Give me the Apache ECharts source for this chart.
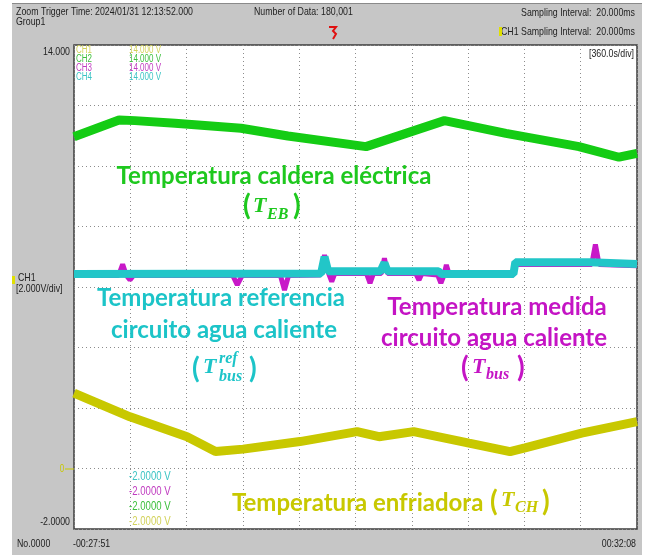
<!DOCTYPE html>
<html>
<head>
<meta charset="utf-8">
<script src="https://cdn.jsdelivr.net/npm/echarts@6/dist/echarts.min.js"></script>
<style>
    body { margin: 0; background: #fff; }
    #frame { position: absolute; left: 12px; top: 3px; width: 630px; height: 552px; background: #c6c6c6; border-top: 1px solid #8a8a8a; }
    #main { position: absolute; left: 0; top: 0; width: 647px; height: 555px; }
</style>
</head>
<body>
<div id="frame"></div>
<div id="main"></div>
<script>
// time in seconds from the left edge of the record (10 div x 360 s), values in V
var greenT  = [0, 288, 390, 646, 1068, 1368, 1867, 2369, 2762, 3229, 3485, 3600];
var greenV  = [10.97, 11.52, 11.50, 11.41, 11.25, 10.99, 10.64, 11.50, 11.08, 10.64, 10.29, 10.42];

var yellowT = [0, 358, 723, 905, 1081, 1445, 1810, 1950, 2172, 2526, 2788, 2884, 3246, 3600];
var yellowV = [2.49, 1.71, 1.05, 0.56, 0.64, 0.89, 1.22, 1.05, 1.22, 0.84, 0.56, 0.68, 1.17, 1.55];

var cyanT   = [0, 1580, 1602, 1625, 1960, 1985, 2005, 2330, 2350, 2810, 2822, 3300, 3600];
var cyanV   = [6.43, 6.45, 7.00, 6.52, 6.52, 6.80, 6.52, 6.52, 6.43, 6.43, 6.82, 6.82, 6.76];

var magT    = [0, 285, 311, 335, 358, 380, 1015, 1044, 1075, 1320, 1346, 1372, 1575, 1602, 1628, 1648, 1668,
               1870, 1893, 1915, 1965, 1985, 2005, 2185, 2206, 2225, 2325, 2346, 2365, 2381, 2400, 2810, 2822,
               3310, 3334, 3358, 3600];
var magV    = [6.38, 6.38, 6.75, 6.38, 6.23, 6.38, 6.38, 6.07, 6.38, 6.38, 5.90, 6.38, 6.40, 7.06, 6.45, 6.18, 6.45,
               6.45, 6.13, 6.45, 6.45, 6.95, 6.45, 6.45, 6.23, 6.45, 6.40, 6.13, 6.38, 6.73, 6.40, 6.40, 6.74,
               6.74, 7.41, 6.74, 6.70];

var timeLabels  = ['-00:27:51', '00:32:08'];
var voltLabels  = ['14.000', '-2.0000'];
var channels    = ['CH1', 'CH2', 'CH3', 'CH4'];
var chColors    = ['#d2d25a', '#3cbf3c', '#c03cc0', '#3cc4c4'];

function pairs(t, v) {
    var out = [];
    for (var i = 0; i < t.length; i++) out.push([t[i], v[i]]);
    return out;
}

function txt(x, y, s, color, font, align) {
    return {
        type: 'text', z: 100,
        style: {
            text: s, x: x, y: y, fill: color, font: font,
            align: align || 'left', textAlign: align || 'left',
            verticalAlign: 'middle', textVerticalAlign: 'middle'
        }
    };
}
// narrow scope font: squeeze Liberation Sans horizontally
function stxt(x, y, s, color, size, align) {
    return {
        type: 'text', z: 100, x: x, y: y, scaleX: 0.8,
        style: {
            text: s, x: 0, y: 0, fill: color, font: size + 'px "Liberation Sans", Arial, sans-serif',
            align: align || 'left', textAlign: align || 'left',
            verticalAlign: 'middle', textVerticalAlign: 'middle'
        }
    };
}

var big = 'bold 24px Lato';
var paren = 'bold 28px Lato';
var mathT = 'italic bold 22px "Liberation Serif"';
var mathS = 'italic bold 16px "Liberation Serif"';
var cG = '#1ec81e', cC = '#1cc4c8', cM = '#c414c4', cY = '#c8c800';

var graphics = [
    // header
    stxt(16, 12, 'Zoom Trigger Time: 2024/01/31 12:13:52.000', '#222', 11),
    stxt(16, 22, 'Group1', '#222', 11),
    stxt(254, 12, 'Number of Data: 180,001', '#222', 11),
    stxt(635, 13, 'Sampling Interval:  20.000ms', '#222', 11, 'right'),
    stxt(635, 32, 'CH1 Sampling Interval:  20.000ms', '#222', 11, 'right'),
    { type: 'rect', z: 100, shape: { x: 499, y: 27, width: 3, height: 9 }, style: { fill: '#e0e000' } },
    { type: 'polyline', z: 100, shape: { points: [[329, 27], [336, 27], [333, 31], [336, 34], [333, 39]] },
      style: { stroke: '#e01010', lineWidth: 2, fill: null } },
    // left side
    stxt(70, 52, voltLabels[0], '#222', 11, 'right'),
    stxt(70, 522, voltLabels[1], '#222', 11, 'right'),
    stxt(18, 278, 'CH1', '#222', 11),
    stxt(16, 289, '[2.000V/div]', '#222', 11),
    { type: 'rect', z: 100, shape: { x: 12, y: 276, width: 3, height: 8 }, style: { fill: '#e0e000' } },
    stxt(62, 469, '0', '#c8c800', 10, 'center'),
    { type: 'line', z: 100, shape: { x1: 65, y1: 469, x2: 74, y2: 469 }, style: { stroke: '#c8c800', lineWidth: 1 } },
    // bottom
    stxt(17, 544, 'No.0000', '#222', 11),
    stxt(73, 544, timeLabels[0], '#222', 11),
    stxt(636, 544, timeLabels[1], '#222', 11, 'right'),
    stxt(634, 54, '[360.0s/div]', '#222', 11, 'right'),

    // annotations
    txt(274, 176, 'Temperatura caldera eléctrica', cG, big, 'center'),
    txt(243, 206, '(', cG, paren),
    txt(253, 206, 'T', cG, mathT),
    txt(267, 215, 'EB', cG, mathS),
    txt(293, 206, ')', cG, paren),

    txt(221, 298, 'Temperatura referencia', cC, big, 'center'),
    txt(224, 330, 'circuito agua caliente', cC, big, 'center'),
    txt(192, 369, '(', cC, paren),
    txt(203, 367, 'T', cC, mathT),
    txt(219, 359, 'ref', cC, mathS),
    txt(219, 377, 'bus', cC, mathS),
    txt(249, 369, ')', cC, paren),

    txt(497, 307, 'Temperatura medida', cM, big, 'center'),
    txt(494, 338, 'circuito agua caliente', cM, big, 'center'),
    txt(461, 368, '(', cM, paren),
    txt(472, 367, 'T', cM, mathT),
    txt(486, 375, 'bus', cM, mathS),
    txt(517, 368, ')', cM, paren),

    txt(232, 503, 'Temperatura enfriadora', cY, big),
    txt(490, 502, '(', cY, paren),
    txt(501, 500, 'T', cY, mathT),
    txt(515, 508, 'CH', cY, mathS),
    txt(542, 502, ')', cY, paren)
];

// channel scale legend inside the plot
for (var i = 0; i < channels.length; i++) {
    graphics.push(stxt(76, 50 + i * 9, channels[i], chColors[i], 10));
    graphics.push(stxt(129, 50 + i * 9, '14.000 V', chColors[i], 10));
    graphics.push(stxt(129, 522 - i * 15, '-2.0000 V', chColors[i], 12));
}

var myChart = echarts.init(document.getElementById('main'));
var option = {
    animation: false,
    grid: {
        left: 74, top: 45, right: 10, bottom: 26,
        show: true, backgroundColor: '#fff', borderColor: '#3c3c3c', borderWidth: 1.5
    },
    xAxis: {
        type: 'value', min: 0, max: 3600, interval: 360,
        axisLabel: { show: false }, axisTick: { show: false }, axisLine: { show: false },
        splitLine: { lineStyle: { type: [1, 3], color: '#8c8c8c', width: 1 } }
    },
    yAxis: {
        type: 'value', min: -2, max: 14, interval: 2,
        axisLabel: { show: false }, axisTick: { show: false }, axisLine: { show: false },
        splitLine: { lineStyle: { type: [1, 3], color: '#8c8c8c', width: 1 } }
    },
    series: [
        { name: 'CH1', type: 'line', showSymbol: false, data: pairs(yellowT, yellowV),
          lineStyle: { color: cY, width: 9 }, itemStyle: { color: cY } },
        { name: 'CH2', type: 'line', showSymbol: false, data: pairs(greenT, greenV),
          lineStyle: { color: '#14cc14', width: 9 }, itemStyle: { color: '#14cc14' } },
        { name: 'CH3', type: 'line', showSymbol: false, data: pairs(magT, magV),
          lineStyle: { color: '#c818c8', width: 5 }, itemStyle: { color: '#c818c8' } },
        { name: 'CH4', type: 'line', showSymbol: false, data: pairs(cyanT, cyanV),
          lineStyle: { color: '#22c6c8', width: 8 }, itemStyle: { color: '#22c6c8' } }
    ],
    graphic: graphics
};
myChart.setOption(option);
</script>
</body>
</html>
